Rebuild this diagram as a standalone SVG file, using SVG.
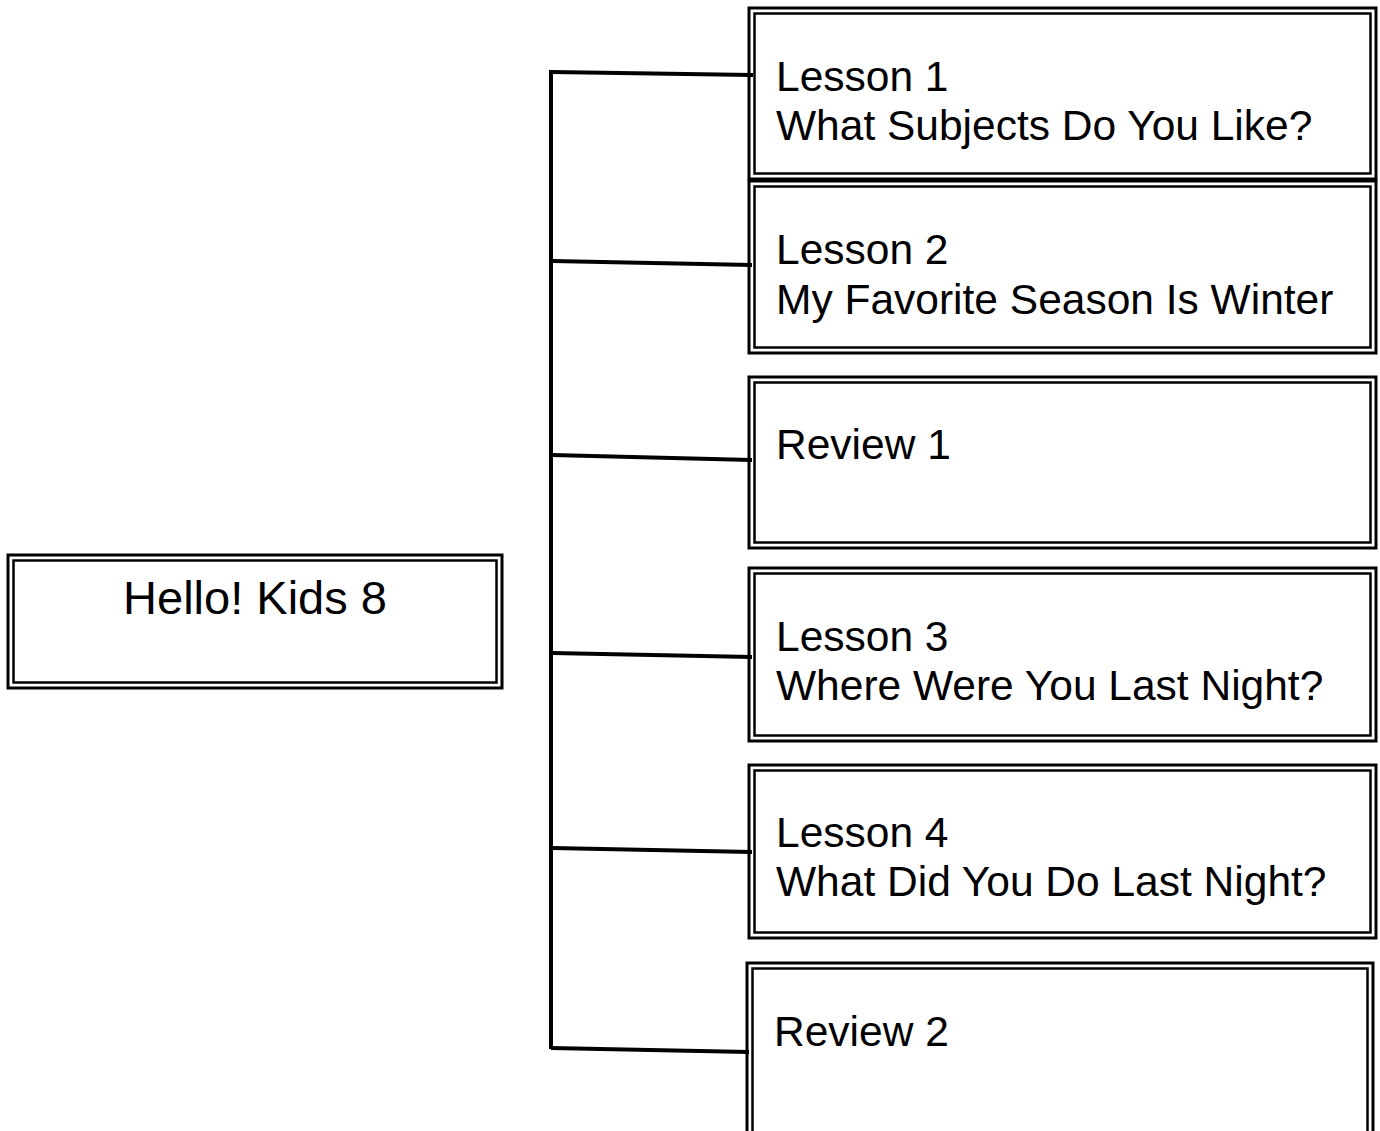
<svg xmlns="http://www.w3.org/2000/svg" width="1380" height="1131" viewBox="0 0 1380 1131">
<style>
.o{fill:none;stroke:#000;stroke-width:3}
.i{fill:none;stroke:#000;stroke-width:2.5}
.t{font-family:"Liberation Sans",Arial,sans-serif;font-size:42.5px;fill:#000}
.m{font-family:"Liberation Sans",Arial,sans-serif;font-size:47px;fill:#000;text-anchor:middle}
.c{fill:none;stroke:#000;stroke-width:4;stroke-linecap:butt}
</style>
<rect width="1380" height="1131" fill="#fff"/>
<g id="connectors">
<path class="c" d="M551 70 V1049"/>
<path class="c" d="M552 72 L753 75"/>
<path class="c" d="M552 261 L752 265"/>
<path class="c" d="M552 455 L752 460"/>
<path class="c" d="M552 653 L752 657"/>
<path class="c" d="M552 848 L752 852"/>
<path class="c" d="M551 1048 L749 1052"/>
</g>
<g id="root">
<rect class="o" x="8" y="555" width="494" height="133"/>
<rect class="i" x="13.5" y="560.5" width="483" height="122"/>
<text class="m" x="255" y="614">Hello! Kids 8</text>
</g>
<g id="lesson1">
<rect class="o" x="749" y="8" width="627" height="171"/>
<rect class="i" x="754.5" y="13.5" width="616" height="160"/>
<text class="t" x="776" y="91">Lesson 1</text>
<text class="t" x="776" y="140">What Subjects Do You Like?</text>
</g>
<g id="lesson2">
<rect class="o" x="749" y="181" width="627" height="172"/>
<rect class="i" x="754.5" y="186.5" width="616" height="161"/>
<text class="t" x="776" y="264">Lesson 2</text>
<text class="t" x="776" y="314">My Favorite Season Is Winter</text>
</g>
<g id="review1">
<rect class="o" x="749" y="377" width="627" height="171"/>
<rect class="i" x="754.5" y="382.5" width="616" height="160"/>
<text class="t" x="776" y="459">Review 1</text>
</g>
<g id="lesson3">
<rect class="o" x="749" y="568" width="627" height="173"/>
<rect class="i" x="754.5" y="573.5" width="616" height="162"/>
<text class="t" x="776" y="651">Lesson 3</text>
<text class="t" x="776" y="700">Where Were You Last Night?</text>
</g>
<g id="lesson4">
<rect class="o" x="749" y="765" width="627" height="173"/>
<rect class="i" x="754.5" y="770.5" width="616" height="162"/>
<text class="t" x="776" y="847">Lesson 4</text>
<text class="t" x="776" y="896">What Did You Do Last Night?</text>
</g>
<g id="review2">
<rect class="o" x="747" y="963" width="626" height="200"/>
<rect class="i" x="752.5" y="968.5" width="615" height="189"/>
<text class="t" x="774" y="1046">Review 2</text>
</g>
</svg>
